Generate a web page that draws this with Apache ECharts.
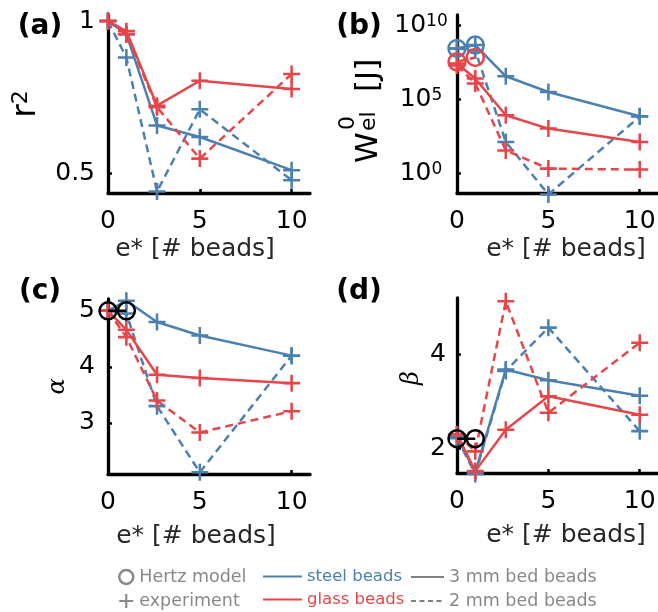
<!DOCTYPE html>
<html><head><meta charset="utf-8">
<script src="https://cdn.jsdelivr.net/npm/echarts@6/dist/echarts.min.js"></script>
<style>html,body{margin:0;padding:0;background:#fff}#c{width:658px;height:612px}</style>
</head><body><div id="c"></div>
<script>
// ---------- data ----------
const xPos = [0, 1, 2.67, 5, 10];
const hertzX = [0, 1];
const xTicks = [0, 5, 10];

// (a) r^2
const r2Steel3 = [1.0, 0.957, 0.657, 0.619, 0.51];
const r2Steel2 = [1.0, 0.88, 0.44, 0.71, 0.477];
const r2Glass3 = [1.0, 0.967, 0.722, 0.804, 0.777];
const r2Glass2 = [1.0, 0.957, 0.717, 0.548, 0.826];
const r2Ticks = [0.5, 1];

// (b) W_el^0 [J]
const wSteel3 = [2.8e8, 4.7e8, 3.7e6, 3.2e5, 7.4e3];
const wSteel2 = [2.8e8, 2.0e8, 138, 0.04, 7.1e3];
const wGlass3 = [2.7e7, 2.6e6, 8.7e3, 1.1e3, 138];
const wGlass2 = [2.0e7, 1.2e6, 37, 2.2, 1.9];
const wHertzSteel = [2.8e8, 4.7e8];
const wHertzGlass = [3.5e7, 6.9e7];
const wTicks = [1, 1e5, 1e10];

// (c) alpha
const aSteel3 = [5.0, 5.18, 4.80, 4.56, 4.20];
const aSteel2 = [5.0, 4.95, 3.30, 2.12, 4.20];
const aGlass3 = [5.0, 4.66, 3.86, 3.80, 3.71];
const aGlass2 = [5.0, 4.53, 3.40, 2.83, 3.21];
const aHertz = [5.0, 5.0];
const aTicks = [3, 4, 5];

// (d) beta
const bSteel3 = [2.24, 1.50, 3.68, 3.45, 3.12];
const bSteel2 = [2.22, 1.46, 3.65, 4.57, 2.37];
const bGlass3 = [2.30, 1.52, 2.40, 3.11, 2.72];
const bGlass2 = [2.30, 1.94, 5.13, 2.76, 4.25];
const bHertz = [2.21, 2.21];
const bTicks = [2, 4];

// ---------- style ----------
const FONT = 'DejaVu Sans';
const BLUE = '#4c80b0', RED = '#e8454a', GRAY = '#888888';
const PLUS = 'path://M8.5,0h3v8.5h8.5v3h-8.5v8.5h-3v-8.5h-8.5v-3h8.5z';
const DASH = [8, 5];

function pts(xs, ys) { return xs.map((x, i) => [x, ys[i]]); }
function expSeries(gi, ys, color, dashed) {
  return { type: 'line', xAxisIndex: gi, yAxisIndex: gi, data: pts(xPos, ys),
    symbol: PLUS, symbolSize: 17, clip: false, silent: true,
    lineStyle: { color: color, width: 2.5, type: dashed ? DASH : 'solid' },
    itemStyle: { color: color } };
}
function hertzSeries(gi, ys, color, dashed) {
  return { type: 'line', xAxisIndex: gi, yAxisIndex: gi, data: pts(hertzX, ys),
    symbol: 'circle', symbolSize: 17, clip: false, silent: true, z: 5,
    lineStyle: { color: color, width: 2.5, type: dashed ? DASH : 'solid' },
    itemStyle: { color: 'rgba(0,0,0,0)', borderColor: color, borderWidth: 2.5 } };
}

const axisLine = { show: true, onZero: false, lineStyle: { color: '#000', width: 3.3 } };
function xAx(gi, gap, pad) {
  return { type: 'value', gridIndex: gi, min: 0, max: 11,
    axisLine: axisLine,
    axisTick: { show: true, inside: true, length: 4, lineStyle: { color: '#000', width: 2.5 }, customValues: xTicks },
    axisLabel: { customValues: xTicks, fontSize: 25, color: '#000', fontFamily: FONT, margin: 16 },
    splitLine: { show: false },
    name: 'e* [# beads]', nameLocation: 'middle', nameGap: gap,
    nameTextStyle: { fontSize: 25, color: '#262626', fontFamily: FONT, padding: pad } };
}
function yAx(gi, min, max, ticks, extra) {
  const ax = { type: 'value', gridIndex: gi, min: min, max: max,
    axisLine: axisLine,
    axisTick: { show: true, inside: true, length: 4, lineStyle: { color: '#000', width: 2.5 }, customValues: ticks },
    axisLabel: { customValues: ticks, fontSize: 25, color: '#000', fontFamily: FONT, margin: 13 },
    splitLine: { show: false }, nameLocation: 'middle', nameRotate: 90 };
  return Object.assign(ax, extra);
}

const series = [
  expSeries(0, r2Steel3, BLUE, false), expSeries(0, r2Steel2, BLUE, true),
  expSeries(0, r2Glass3, RED, false), expSeries(0, r2Glass2, RED, true),
  expSeries(1, wSteel3, BLUE, false), expSeries(1, wSteel2, BLUE, true),
  expSeries(1, wGlass3, RED, false), expSeries(1, wGlass2, RED, true),
  hertzSeries(1, wHertzSteel, BLUE, false), hertzSeries(1, wHertzGlass, RED, true),
  expSeries(2, aSteel3, BLUE, false), expSeries(2, aSteel2, BLUE, true),
  expSeries(2, aGlass3, RED, false), expSeries(2, aGlass2, RED, true),
  hertzSeries(2, aHertz, '#000', false),
  expSeries(3, bSteel3, BLUE, false), expSeries(3, bSteel2, BLUE, true),
  expSeries(3, bGlass3, RED, false), expSeries(3, bGlass2, RED, true),
  hertzSeries(3, bHertz, '#000', false),
  // legend-only series
  { type: 'line', name: 'Hertz model', data: [], symbol: 'none', lineStyle: { color: GRAY } },
  { type: 'line', name: 'experiment', data: [], symbol: 'none', lineStyle: { color: GRAY } },
  { type: 'line', name: 'steel beads', data: [], symbol: 'none', itemStyle: { color: BLUE }, lineStyle: { color: BLUE, width: 3 } },
  { type: 'line', name: 'glass beads', data: [], symbol: 'none', itemStyle: { color: RED }, lineStyle: { color: RED, width: 3 } },
  { type: 'line', name: '3 mm bed beads', data: [], symbol: 'none', itemStyle: { color: '#808080' }, lineStyle: { color: '#808080', width: 3 } },
  { type: 'line', name: '2 mm bed beads', data: [], symbol: 'none', itemStyle: { color: '#808080' }, lineStyle: { color: '#808080', width: 3, type: [5, 3.5] } }
];

const legTxt = { color: GRAY, fontSize: 17.5, fontFamily: FONT };
const noSym = { color: 'rgba(0,0,0,0)', borderWidth: 0, opacity: 0 };
const panelFont = 'bold 28px "DejaVu Sans"';
const option = {
  animation: false,
  backgroundColor: '#fff',
  grid: [
    { left: 108, top: 15, width: 202, height: 178, outerBoundsMode: 'none' },
    { left: 457, top: 15, width: 201, height: 178, outerBoundsMode: 'none' },
    { left: 108, top: 299, width: 202, height: 175, outerBoundsMode: 'none' },
    { left: 457, top: 298, width: 201, height: 175, outerBoundsMode: 'none' }
  ],
  xAxis: [ xAx(0, 44, [0, 28, 0, 0]), xAx(1, 44, [0, 0, 0, 17]), xAx(2, 50, [0, 26, 0, 0]), xAx(3, 50, [0, 0, 0, 17]) ],
  yAxis: [
    yAx(0, 0.435, 1.02, r2Ticks, {
      name: '{r|r}{s|2}', nameGap: 65,
      nameTextStyle: { fontSize: 33, fontFamily: FONT, color: '#000',
        rich: { r: { fontSize: 33, fontFamily: FONT, color: '#000' },
                s: { fontSize: 22, fontFamily: FONT, color: '#000', verticalAlign: 'top' } } } }),
    yAx(1, 0.05, 5e10, wTicks, {
      type: 'log', logBase: 10,
      axisLabel: { customValues: wTicks, color: '#000', margin: 36, align: 'center',
        formatter: v => '{b|10}{e|' + Math.round(Math.log10(v)) + '}',
        rich: { b: { fontSize: 25, fontFamily: FONT, color: '#000' },
                e: { fontSize: 17, fontFamily: FONT, color: '#000', verticalAlign: 'top' } } } }),
    yAx(2, 2.09, 5.21, aTicks, {
      name: 'α', nameGap: 38,
      nameTextStyle: { fontSize: 24, fontFamily: 'DejaVu Serif', fontStyle: 'italic', color: '#000' } }),
    yAx(3, 1.48, 5.2, bTicks, {
      name: 'β', nameGap: 33,
      axisLabel: { customValues: bTicks, fontSize: 25, color: '#000', fontFamily: FONT, margin: 11 },
      nameTextStyle: { fontSize: 24, fontFamily: 'DejaVu Serif', fontStyle: 'italic', color: '#000', padding: [0, 0, 0, 15] } })
  ],
  legend: [
    { left: 118, top: 568, orient: 'vertical', padding: 0, itemWidth: 16, itemHeight: 14, itemGap: 6, selectedMode: false,
      textStyle: legTxt,
      data: [ { name: 'Hertz model', icon: 'circle', itemStyle: { color: 'rgba(0,0,0,0)', borderColor: GRAY, borderWidth: 2.5 } },
              { name: 'experiment', icon: PLUS, itemStyle: { color: GRAY, borderWidth: 0 } } ] },
    { left: 262, top: 568, orient: 'vertical', padding: 0, itemWidth: 39, itemHeight: 14, itemGap: 6, selectedMode: false,
      textStyle: legTxt, itemStyle: noSym,
      data: [ { name: 'steel beads', itemStyle: noSym, textStyle: { color: BLUE, fontSize: 16.5 } },
              { name: 'glass beads', itemStyle: noSym, textStyle: { color: RED, fontSize: 16.5 } } ] },
    { left: 410, top: 568, orient: 'vertical', padding: 0, itemWidth: 33, itemHeight: 14, itemGap: 6, selectedMode: false,
      textStyle: legTxt, itemStyle: noSym,
      data: [ { name: '3 mm bed beads', itemStyle: noSym }, { name: '2 mm bed beads', itemStyle: noSym } ] }
  ],
  graphic: [
    { type: 'text', x: 40, y: 27, style: { text: '(a)', font: panelFont, fill: '#000', align: 'center', verticalAlign: 'middle' } },
    { type: 'text', x: 359, y: 27, style: { text: '(b)', font: panelFont, fill: '#000', align: 'center', verticalAlign: 'middle' } },
    { type: 'text', x: 40, y: 292, style: { text: '(c)', font: panelFont, fill: '#000', align: 'center', verticalAlign: 'middle' } },
    { type: 'text', x: 359, y: 292, style: { text: '(d)', font: panelFont, fill: '#000', align: 'center', verticalAlign: 'middle' } },
    // y-axis title of panel (b): W^0_el [J], rotated to read bottom-to-top
    { type: 'group', x: 378, y: 163, rotation: Math.PI / 2, children: [
      { type: 'text', x: 0, y: 6, style: { text: 'W', fontSize: 31, fontFamily: FONT, fill: '#000', align: 'left', verticalAlign: 'bottom' } },
      { type: 'text', x: 32, y: 2.5, style: { text: 'el', fontSize: 22, fontFamily: FONT, fill: '#000', align: 'left', verticalAlign: 'bottom' } },
      { type: 'text', x: 33, y: -18.5, style: { text: '0', fontSize: 22, fontFamily: FONT, fill: '#000', align: 'left', verticalAlign: 'bottom' } },
      { type: 'text', x: 71, y: 6, style: { text: '[J]', fontSize: 31, fontFamily: FONT, fill: '#000', align: 'left', verticalAlign: 'bottom' } }
    ] }
  ],
  series: series
};
const chart = echarts.init(document.getElementById('c'), null, { renderer: 'canvas' });
chart.setOption(option);
</script></body></html>
